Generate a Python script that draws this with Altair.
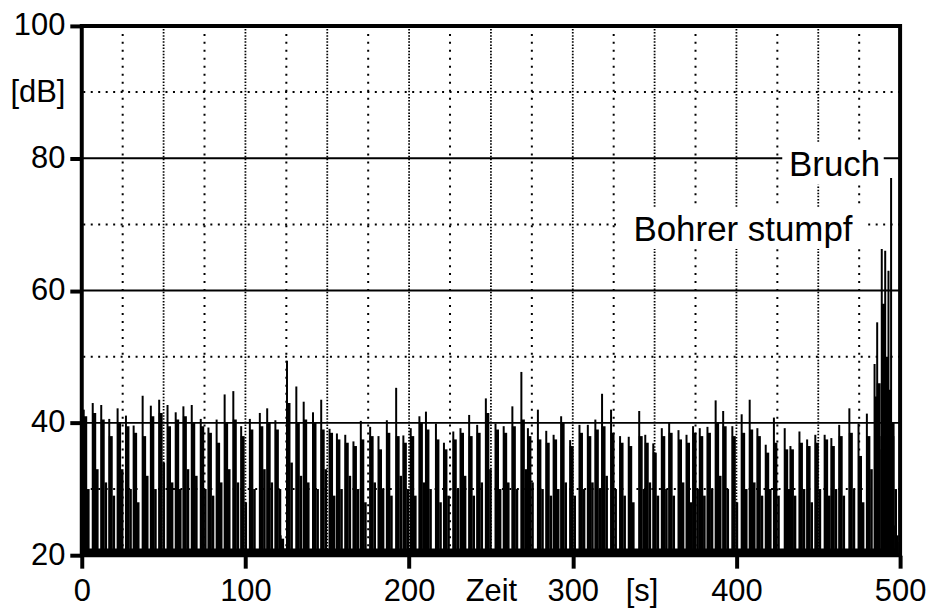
import altair as alt
import pandas as pd

# ---- data -----------------------------------------------------------------
# time of each burst [s], peak level [dB], level of the dense body, level of the decaying tail
spike_t = [1.2, 6.7, 11.9, 16.8, 21.9, 27.0, 31.7, 37.2, 42.2, 47.3, 52.4, 57.4, 62.1, 67.2, 72.7, 77.4, 82.4,
           87.3, 92.6, 97.4, 102.7, 108.8, 113.3, 118.3, 121.5, 125.4, 131.1, 135.6, 141.3, 146.3, 151.4, 155.9, 161.0, 166.0,
           170.5, 176.2, 181.3, 186.4, 192.1, 196.5, 201.0, 206.3, 210.3, 216.4, 221.3, 227.0, 231.4, 236.7, 241.6, 246.9,
           252.8, 257.8, 263.1, 268.6, 272.6, 278.7, 283.8, 288.3, 292.9, 298.4, 304.1, 309.2, 313.8, 317.9, 323.4, 328.9, 334.2,
           340.6, 344.3, 349.2, 354.4, 358.9, 364.6, 369.5, 373.5, 377.6, 382.3, 387.3, 391.9, 397.5, 403.2, 408.1, 412.8, 417.9, 422.9,
           429.5, 433.0, 438.5, 443.2, 448.2, 453.9, 458.0, 462.8, 469.0, 474.6, 479.7, 484.4, 486.0, 488.8, 490.9, 492.9, 494.5, 497.0]
spike_peak = [42.0, 43.0, 42.7, 40.6, 42.2, 41.1, 39.6, 44.1, 42.6, 43.5, 42.7, 41.6, 42.5, 42.7, 40.6, 39.3, 40.5,
              44.3, 44.8, 39.5, 40.6, 41.5, 42.2, 40.4, 23.0, 49.4, 45.5, 43.2, 41.6, 43.5, 39.1, 38.4, 38.2, 37.2,
              40.3, 39.4, 38.0, 40.4, 45.3, 38.1, 39.2, 41.0, 41.7, 39.9, 37.0, 38.7, 39.2, 41.2, 39.7, 43.7,
              39.9, 39.5, 42.5, 47.7, 39.2, 42.0, 38.8, 38.2, 41.0, 37.4, 39.7, 39.7, 40.5, 44.4, 42.0, 38.0, 37.9,
              41.8, 38.2, 36.9, 39.2, 40.0, 38.9, 38.2, 39.5, 39.2, 39.4, 43.4, 41.8, 39.5, 41.3, 43.5, 39.2, 36.7, 40.8,
              39.2, 36.5, 38.7, 37.5, 38.2, 38.2, 37.7, 39.7, 42.2, 39.9, 41.4, 48.9, 55.2, 66.3, 66.0, 63.0, 77.0, 24.5]
spike_body = [41.0, 41.5, 40.5, 38.0, 40.0, 39.5, 38.5, 38.0, 41.0, 41.5, 39.5, 40.5, 41.0, 40.0, 39.5, 38.5, 37.0,
              40.0, 40.5, 38.0, 39.0, 39.5, 40.0, 39.0, 22.5, 43.0, 40.0, 40.5, 40.0, 39.0, 38.5, 37.5, 37.0, 36.5,
              37.5, 38.0, 36.0, 38.5, 38.0, 37.0, 38.0, 40.0, 39.0, 37.5, 36.0, 37.5, 38.5, 38.0, 38.5, 41.5,
              39.0, 38.5, 39.5, 40.5, 38.0, 37.5, 37.0, 37.5, 40.0, 36.5, 38.5, 38.0, 39.0, 39.5, 38.5, 37.0, 36.5,
              38.0, 37.0, 35.5, 38.0, 38.5, 37.5, 37.0, 38.5, 38.0, 38.5, 40.0, 39.5, 38.0, 38.5, 39.0, 38.0, 35.5, 37.0,
              36.0, 36.0, 37.0, 36.5, 37.0, 37.5, 36.5, 38.0, 38.5, 35.0, 38.0, 44.0, 46.0, 58.0, 50.0, 45.0, 40.0, 23.0]
spike_tail = [30, 33, 31, 29, 33, 30, 28, 32, 30, 34, 31, 30, 33, 32, 30, 29, 31,
              33, 31, 28, 30, 33, 31, 30, 21, 34, 32, 31, 30, 33, 29, 30, 32, 30,
              28, 31, 30, 29, 32, 30, 29, 31, 30, 28, 29, 30, 32, 29, 31, 33,
              30, 31, 30, 33, 31, 30, 29, 30, 31, 29, 30, 31, 30, 32, 30, 29, 28,
              30, 31, 29, 30, 29, 31, 28, 30, 29, 30, 32, 30, 28, 30, 31, 29, 30, 29,
              30, 29, 30, 28, 30, 29, 30, 29, 30, 28, 33, 36, 38, 45, 40, 38, 30, 22]

grid_major_y = [40, 60, 80]
grid_minor_y = [30, 50, 70, 90]
grid_x_dense = [50, 100, 150, 200, 250, 300, 350, 400, 450]
grid_x_sparse = [25, 75, 125, 175, 225, 275, 325, 375, 425, 475]

x_tick_values = [0, 100, 200, 250, 300, 342, 400, 500]
y_tick_values = [20, 40, 60, 80, 90, 100]

ann_text = ["Bruch", "Bohrer stumpf"]
ann_x = [460, 404]
ann_y = [77.3, 67.5]
ann_x0 = [428, 328]
ann_x1 = [490, 479]
ann_y0 = [76.0, 66.3]
ann_y1 = [82.3, 72.6]

# ---- tables ----------------------------------------------------------------
spikes = pd.DataFrame({"t": spike_t, "peak": spike_peak, "body": spike_body, "tail": spike_tail})
hmaj = pd.DataFrame({"v": grid_major_y})
hmin = pd.DataFrame({"v": grid_minor_y})
vden = pd.DataFrame({"v": grid_x_dense})
vsp = pd.DataFrame({"v": grid_x_sparse})
ann = pd.DataFrame({"text": ann_text, "x": ann_x, "y": ann_y,
                    "x0": ann_x0, "x1": ann_x1, "y0": ann_y0, "y1": ann_y1})
base = pd.DataFrame({"a": [0.0], "b": [498.0], "lo": [20.0], "hi": [21.0]})

FONT = "Liberation Sans"

xscale = alt.Scale(domain=[0, 500], nice=False, zero=False)
yscale = alt.Scale(domain=[20, 100], nice=False, zero=False)

xaxis = alt.Axis(values=x_tick_values, title=None, grid=False, domain=False,
                 labelExpr="datum.value == 250 ? 'Zeit' : datum.value == 342 ? '[s]' : datum.label",
                 tickOpacity={"condition": {"test": "datum.value == 250 || datum.value == 342", "value": 0}, "value": 1},
                 tickSize=13, tickWidth=4, tickColor="black",
                 labelFont=FONT, labelFontSize=31, labelColor="black", labelPadding=8,
                 labelFlush=False, labelOverlap=False)
yaxis = alt.Axis(values=y_tick_values, title=None, grid=False, domain=False,
                 labelExpr="datum.value == 90 ? '[dB]' : datum.label",
                 tickOpacity={"condition": {"test": "datum.value == 90", "value": 0}, "value": 1},
                 tickSize=12, tickWidth=4, tickColor="black",
                 labelFont=FONT, labelFontSize=31, labelColor="black", labelPadding=5,
                 labelFlush=False, labelOverlap=False)

# ---- layers ----------------------------------------------------------------
g_major = alt.Chart(hmaj).mark_rule(color="black", strokeWidth=2).encode(
    y=alt.Y("v:Q", scale=yscale, axis=yaxis))
g_minor = alt.Chart(hmin).mark_rule(color="black", strokeWidth=2, strokeDash=[2, 5.5]).encode(
    y=alt.Y("v:Q", scale=yscale, axis=yaxis))
g_vden = alt.Chart(vden).mark_rule(color="black", strokeWidth=1.8, strokeDash=[1.5, 1.6]).encode(
    x=alt.X("v:Q", scale=xscale, axis=xaxis))
g_vsp = alt.Chart(vsp).mark_rule(color="black", strokeWidth=2, strokeDash=[2, 6]).encode(
    x=alt.X("v:Q", scale=xscale, axis=xaxis))

ann_bg = alt.Chart(ann).mark_rect(color="white").encode(
    x=alt.X("x0:Q", scale=xscale, axis=xaxis), x2="x1:Q",
    y=alt.Y("y0:Q", scale=yscale, axis=yaxis), y2="y1:Q")

band = alt.Chart(base).mark_rect(color="black").encode(
    x=alt.X("a:Q", scale=xscale, axis=xaxis), x2="b:Q",
    y=alt.Y("lo:Q", scale=yscale, axis=yaxis), y2="hi:Q")

tails = alt.Chart(spikes).mark_rule(color="black", strokeWidth=2.6, xOffset=4.6).encode(
    x=alt.X("t:Q", scale=xscale, axis=xaxis),
    y=alt.Y("tail:Q", scale=yscale, axis=yaxis), y2=alt.datum(20))
bodies = alt.Chart(spikes).mark_rule(color="black", strokeWidth=4, xOffset=1.5).encode(
    x=alt.X("t:Q", scale=xscale, axis=xaxis),
    y=alt.Y("body:Q", scale=yscale, axis=yaxis), y2=alt.datum(20))
peaks = alt.Chart(spikes).mark_rule(color="black", strokeWidth=2).encode(
    x=alt.X("t:Q", scale=xscale, axis=xaxis),
    y=alt.Y("peak:Q", scale=yscale, axis=yaxis), y2=alt.datum(20))

labels = alt.Chart(ann).mark_text(font=FONT, fontSize=35, color="black",
                                  align="center", baseline="alphabetic").encode(
    x=alt.X("x:Q", scale=xscale, axis=xaxis),
    y=alt.Y("y:Q", scale=yscale, axis=yaxis),
    text="text:N")

chart = alt.layer(g_major, g_minor, g_vden, g_vsp, ann_bg, band, tails, bodies, peaks, labels).properties(
    width=821, height=531,
    autosize=alt.AutoSizeParams(type="none"),
    padding={"left": 74, "top": 17, "right": 30, "bottom": 53},
    background="white",
).configure_view(stroke="black", strokeWidth=4)

chart.save("out.html", embed_options={"renderer": "svg", "actions": False})
